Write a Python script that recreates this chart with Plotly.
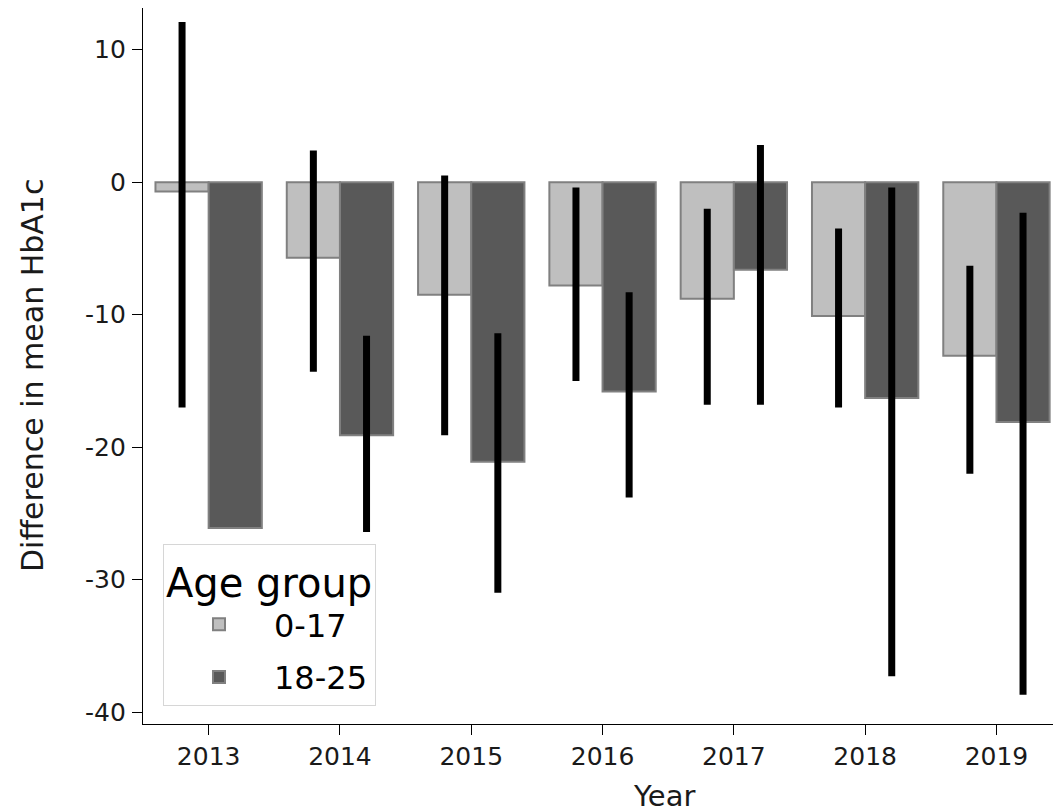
import plotly.graph_objects as go

years = ["2013", "2014", "2015", "2016", "2017", "2018", "2019"]
group_names = ["0-17", "18-25"]

mean_0_17 = [-0.7, -5.7, -8.5, -7.8, -8.8, -10.1, -13.1]
mean_18_25 = [-26.1, -19.1, -21.1, -15.8, -6.6, -16.3, -18.1]

ci_high_0_17 = [12.1, 2.4, 0.5, -0.4, -2.0, -3.5, -6.3]
ci_low_0_17 = [-17.0, -14.3, -19.1, -15.0, -16.8, -17.0, -22.0]
ci_high_18_25 = [None, -11.6, -11.4, -8.3, 2.8, -0.4, -2.3]
ci_low_18_25 = [None, -26.4, -31.0, -23.8, -16.8, -37.3, -38.7]

y_ticks = [-40, -30, -20, -10, 0, 10]

fill_colors = ["#bfbfbf", "#595959"]
edge_color = "#808080"
FONT = "DejaVu Sans"


def err_arrays(mean, hi, lo):
    plus, minus = [], []
    for m, h, l in zip(mean, hi, lo):
        if h is None or l is None:
            plus.append(None)
            minus.append(None)
        else:
            plus.append(h - m)
            minus.append(m - l)
    return plus, minus


fig = go.Figure()
for name, mean, hi, lo, col in [
    (group_names[0], mean_0_17, ci_high_0_17, ci_low_0_17, fill_colors[0]),
    (group_names[1], mean_18_25, ci_high_18_25, ci_low_18_25, fill_colors[1]),
]:
    plus, minus = err_arrays(mean, hi, lo)
    fig.add_trace(go.Bar(
        x=years, y=mean, name=name, legendgroup=name,
        marker=dict(color=col, line=dict(color=edge_color, width=2)),
        error_y=dict(type="data", symmetric=False, array=plus, arrayminus=minus,
                     color="black", thickness=7, width=0),
    ))

# page body has an 8px margin, so the figure is placed at (8, 8) in the window
OFF = 8
W, H = 1061, 812 - OFF
PLOT_L, PLOT_R, PLOT_T, PLOT_B = 143, 1061, 8, 724   # window pixels
ml, mt = PLOT_L - OFF, PLOT_T - OFF
mr = W - (PLOT_R - OFF)
mb = H - (PLOT_B - OFF)
pw, ph = PLOT_R - PLOT_L, PLOT_B - PLOT_T
cat_px = 131.3


def px(x):
    return (x - PLOT_L) / pw


def py(y):
    return (PLOT_B - y) / ph


fig.update_layout(
    width=W, height=H,
    margin=dict(l=ml, r=mr, t=mt, b=mb, pad=0),
    barmode="group", bargap=0.19, bargroupgap=0,
    plot_bgcolor="white", paper_bgcolor="white",
    font=dict(family=FONT, color="#1a1a1a", size=24),
    showlegend=True,
    legend=dict(
        title=dict(text="Age group", font=dict(size=40, family=FONT, color="black")),
        font=dict(size=32, family=FONT, color="black"),
        x=px(163), y=py(706), xanchor="left", yanchor="bottom",
        bgcolor="rgba(255,255,255,0.85)", bordercolor="#d6d6d6", borderwidth=1,
        itemwidth=100, tracegroupgap=8,
    ),
    xaxis=dict(
        type="category", range=[-0.5, -0.5 + pw / cat_px],
        showline=True, linecolor="black", linewidth=1.3,
        ticks="outside", ticklen=10, tickwidth=1.3, tickcolor="black",
        tickfont=dict(size=25, family=FONT, color="#1a1a1a"),
        showgrid=False, zeroline=False,
    ),
    yaxis=dict(
        range=[-40.9, 13.15],
        tickvals=y_ticks, ticktext=[str(v) for v in y_ticks],
        showline=True, linecolor="black", linewidth=1.3,
        ticks="outside", ticklen=10, tickwidth=1.3, tickcolor="black",
        tickfont=dict(size=25, family=FONT, color="#1a1a1a"),
        ticklabelstandoff=1,
        showgrid=False, zeroline=False,
    ),
    annotations=[
        dict(text="Year", xref="paper", yref="paper",
             x=px(664), y=py(796), xanchor="center", yanchor="middle",
             showarrow=False, font=dict(size=29, family=FONT, color="#1a1a1a")),
        dict(text="Difference in mean HbA1c", xref="paper", yref="paper",
             x=px(32), y=py(376), xanchor="center", yanchor="middle",
             textangle=-90, showarrow=False,
             font=dict(size=30, family=FONT, color="#1a1a1a")),
    ],
)

fig.write_html("out.html")
